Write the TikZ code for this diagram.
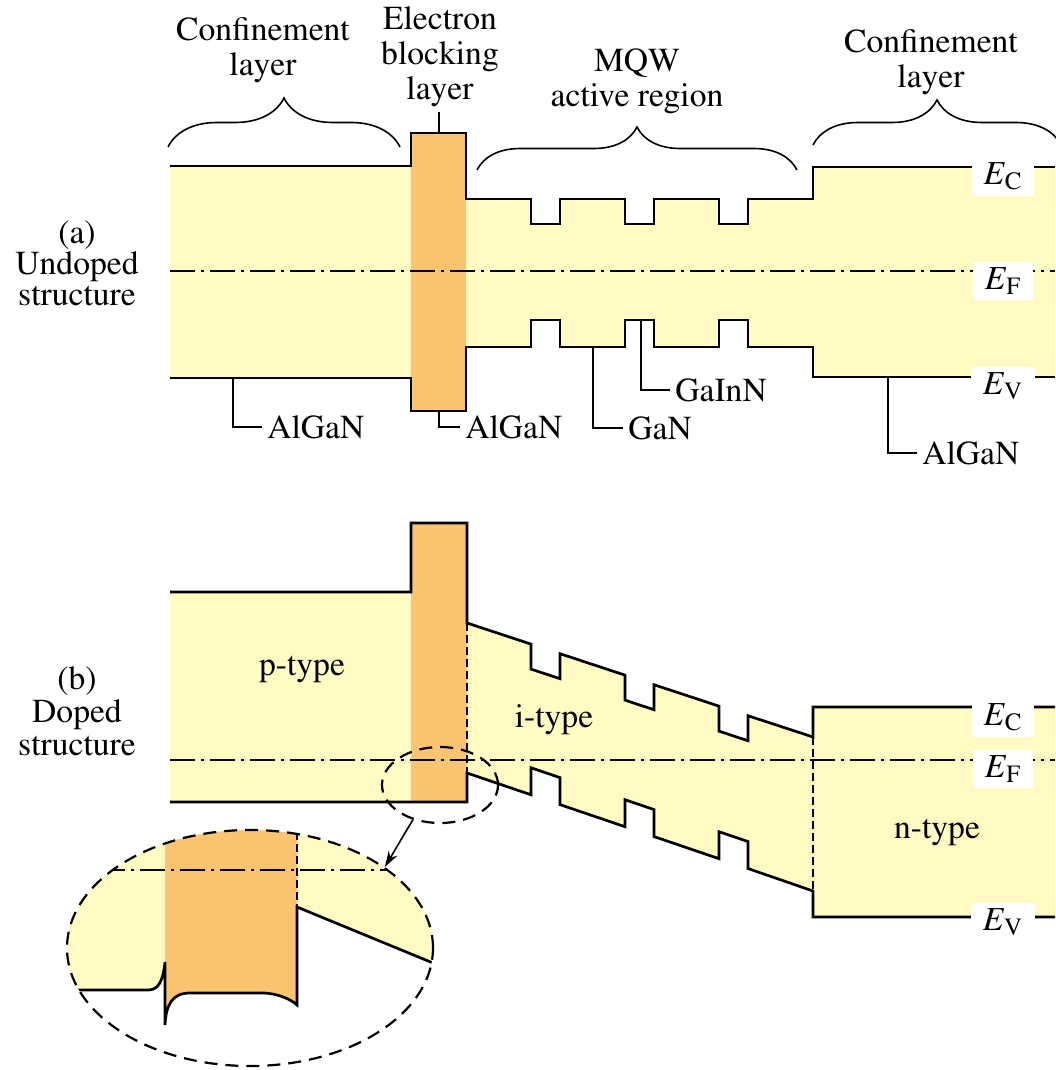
\documentclass[tikz,border=0pt]{standalone}
\usepackage[T1]{fontenc}
\usepackage{mathptmx}
\usetikzlibrary{arrows.meta, positioning, shapes.geometric, decorations.pathreplacing}
\definecolor{cgap}{HTML}{FFFBC2}
\definecolor{cebl}{HTML}{FAC470}
\newcommand\lblsize{\rmfamily\fontsize{16.8}{17.5}\selectfont}
\tikzset{
  every picture/.style={line width=1.35pt},
  band/.style={draw=black, line width=1.35pt},
  gap/.style={fill=cgap},
  barrier/.style={fill=cebl},
  fermi/.style={line width=1.1pt, dash pattern=on 12.5pt off 3pt on 1.5pt off 3pt},
  guide/.style={line width=0.8pt, dash pattern=on 4pt off 2pt},
  leader/.style={line width=0.8pt},
  lbl/.style={font=\lblsize, inner sep=2pt, align=center},
  elevel/.style={fill=white, font=\lblsize, inner xsep=6pt, inner ysep=3pt},
  curly/.style={decorate, decoration={brace, amplitude=#1}, line width=0.8pt},
  zoomring/.style={draw, ellipse, inner sep=0pt, line width=1.1pt, dash pattern=on 6.5pt off 4pt},
}
\begin{document}
\begin{tikzpicture}[x=0.5pt, y=-0.5pt]
  \useasboundingbox (0,0) rectangle (1055,1070);

  % (a) undoped structure
  \fill[gap] (170,166) -- (466,166) -- (466,199)
    \foreach \w in {531,625,719} { -- (\w,199) -- (\w,224) -- ({\w+29},224) -- ({\w+29},199) }
    -- (813,199) -- (813,167) -- (1055,167) -- (1055,377) -- (813,377) -- (813,347)
    \foreach \w in {719,625,531} { -- ({\w+29},347) -- ({\w+29},320) -- (\w,320) -- (\w,347) }
    -- (466,347) -- (466,378) -- (170,378) -- cycle;
  \fill[barrier] (411,133) rectangle (466,411);
  \draw[fermi] (170,271) -- (1055,271);
  \draw[band] (170,166) -- (411,166) -- (411,133) -- (466,133) -- (466,199)
    \foreach \w in {531,625,719} { -- (\w,199) -- (\w,224) -- ({\w+29},224) -- ({\w+29},199) }
    -- (813,199) -- (813,167) -- (1055,167);
  \draw[band] (170,378) -- (411,378) -- (411,411) -- (466,411) -- (466,347)
    \foreach \w in {531,625,719} { -- (\w,347) -- (\w,320) -- ({\w+29},320) -- ({\w+29},347) }
    -- (813,347) -- (813,377) -- (1055,377);
  \node[elevel] (ec1) at (1003,176) {\textit{E}\textsubscript{C}};
  \node[elevel] (ef1) at (1003,281) {\textit{E}\textsubscript{F}};
  \node[elevel] (ev1) at (1003,386) {\textit{E}\textsubscript{V}};
  \node[lbl] (tagA) at (77,263) {(a)\\[-2pt]Undoped\\[-2pt]structure};

  % layer names and braces
  \draw[curly=24.5pt] (168,147) -- (400,147);
  \draw[curly=21.5pt] (477,170) -- (797,170);
  \draw[curly=22.5pt] (813,145) -- (1061,145);
  \node[lbl] (confL) at (263,50) {Confinement\\layer};
  \node[lbl] (ebl) at (440,57) {Electron\\blocking\\layer};
  \node[lbl] (mqw) at (637,81) {MQW\\active region};
  \node[lbl] (confR) at (931,62) {Confinement\\layer};
  \coordinate (eblTop) at (439,133);
  \draw[leader] (ebl.south -| eblTop) -- (eblTop);

  % material leaders
  \coordinate (pAl1) at (233,378);
  \coordinate (pAl2) at (439,411);
  \coordinate (pGaN) at (593,347);
  \coordinate (pGaInN) at (641,320);
  \coordinate (pAl3) at (888,377);
  \node[lbl, anchor=west] (algan1) at (262,427) {AlGaN};
  \node[lbl, anchor=west] (algan2) at (460,427) {AlGaN};
  \node[lbl, anchor=west] (gan) at (623,428) {GaN};
  \node[lbl, anchor=west] (gainn) at (670,390) {GaInN};
  \node[lbl, anchor=west] (algan3) at (917,453) {AlGaN};
  \draw[leader] (pAl1) |- (algan1.west);
  \draw[leader] (pAl2) |- (algan2.west);
  \draw[leader] (pGaN) |- (gan.west);
  \draw[leader] (pGaInN) |- (gainn.west);
  \draw[leader] (pAl3) |- (algan3.west);

  % (b) doped structure
  \fill[gap] (170,592) rectangle (411,802);
  \fill[barrier] (411,523) rectangle (467,802);
  \fill[gap] (467,623)
    \foreach \w in {531,625,719} { -- (\w,{623+0.33*(\w-467)}) -- (\w,{648+0.33*(\w-467)})
      -- ({\w+29},{648+0.33*(\w+29-467)}) -- ({\w+29},{623+0.33*(\w+29-467)}) }
    -- (813,737) -- (813,707) -- (1055,707) -- (1055,917) -- (813,917) -- (813,891)
    \foreach \w in {719,625,531} { -- ({\w+29},{773+0.34*(\w+29-467)}) -- ({\w+29},{746+0.34*(\w+29-467)})
      -- (\w,{746+0.34*(\w-467)}) -- (\w,{773+0.34*(\w-467)}) }
    -- (467,773) -- cycle;
  \draw[fermi] (170,760) -- (1055,760);
  \draw[guide] (467,623) -- (467,773);
  \draw[guide] (813,737) -- (813,891);
  \draw[band] (170,592) -- (411,592) -- (411,523) -- (467,523) -- (467,623)
    \foreach \w in {531,625,719} { -- (\w,{623+0.33*(\w-467)}) -- (\w,{648+0.33*(\w-467)})
      -- ({\w+29},{648+0.33*(\w+29-467)}) -- ({\w+29},{623+0.33*(\w+29-467)}) }
    -- (813,737) -- (813,707) -- (1055,707);
  \draw[band] (170,802) -- (467,802) -- (467,773)
    \foreach \w in {531,625,719} { -- (\w,{773+0.34*(\w-467)}) -- (\w,{746+0.34*(\w-467)})
      -- ({\w+29},{746+0.34*(\w+29-467)}) -- ({\w+29},{773+0.34*(\w+29-467)}) }
    -- (813,891) -- (813,917) -- (1055,917);
  \node[elevel] (ec2) at (1003,717) {\textit{E}\textsubscript{C}};
  \node[elevel] (ef2) at (1003,769) {\textit{E}\textsubscript{F}};
  \node[elevel] (ev2) at (1003,922) {\textit{E}\textsubscript{V}};
  \node[lbl] (ptype) at (302,670) {p-type};
  \node[lbl] (itype) at (554,720) {i-type};
  \node[lbl] (ntype) at (937,833) {n-type};
  \node[lbl] (tagB) at (77,711) {(b)\\[-1pt]Doped\\[-1pt]structure};

  % magnified interface
  \begin{scope}
    \clip (250,948) ellipse [x radius=91.5pt, y radius=59pt];
    \fill[gap] (60,820) -- (60,990) -- (148,990) .. controls (158,990) and (163,982) .. (165,962)
      -- (165,1025) .. controls (166,1005) and (172,993) .. (190,993) -- (262,993)
      .. controls (278,993) and (292,1000) .. (297,1005) -- (297,907) -- (450,970) -- (450,820) -- cycle;
    \fill[barrier] (165,820) -- (165,1025) .. controls (166,1005) and (172,993) .. (190,993) -- (262,993)
      .. controls (278,993) and (292,1000) .. (297,1005) -- (297,820) -- cycle;
    \draw[fermi] (100,870) -- (400,870);
    \draw[guide] (297,820) -- (297,907);
    \draw[band] (60,990) -- (148,990) .. controls (158,990) and (163,982) .. (165,962)
      -- (165,1025) .. controls (166,1005) and (172,993) .. (190,993) -- (262,993)
      .. controls (278,993) and (292,1000) .. (297,1005) -- (297,907) -- (450,970);
  \end{scope}
  \node[zoomring, minimum width=58pt, minimum height=38pt] (zsmall) at (440,785) {};
  \node[zoomring, minimum width=183pt, minimum height=118pt] (zbig) at (250,948) {};
  \draw[-{Stealth[length=8pt, width=5pt]}, line width=0.8pt] (zsmall.232) -- (zbig.31);
\end{tikzpicture}
\end{document}
